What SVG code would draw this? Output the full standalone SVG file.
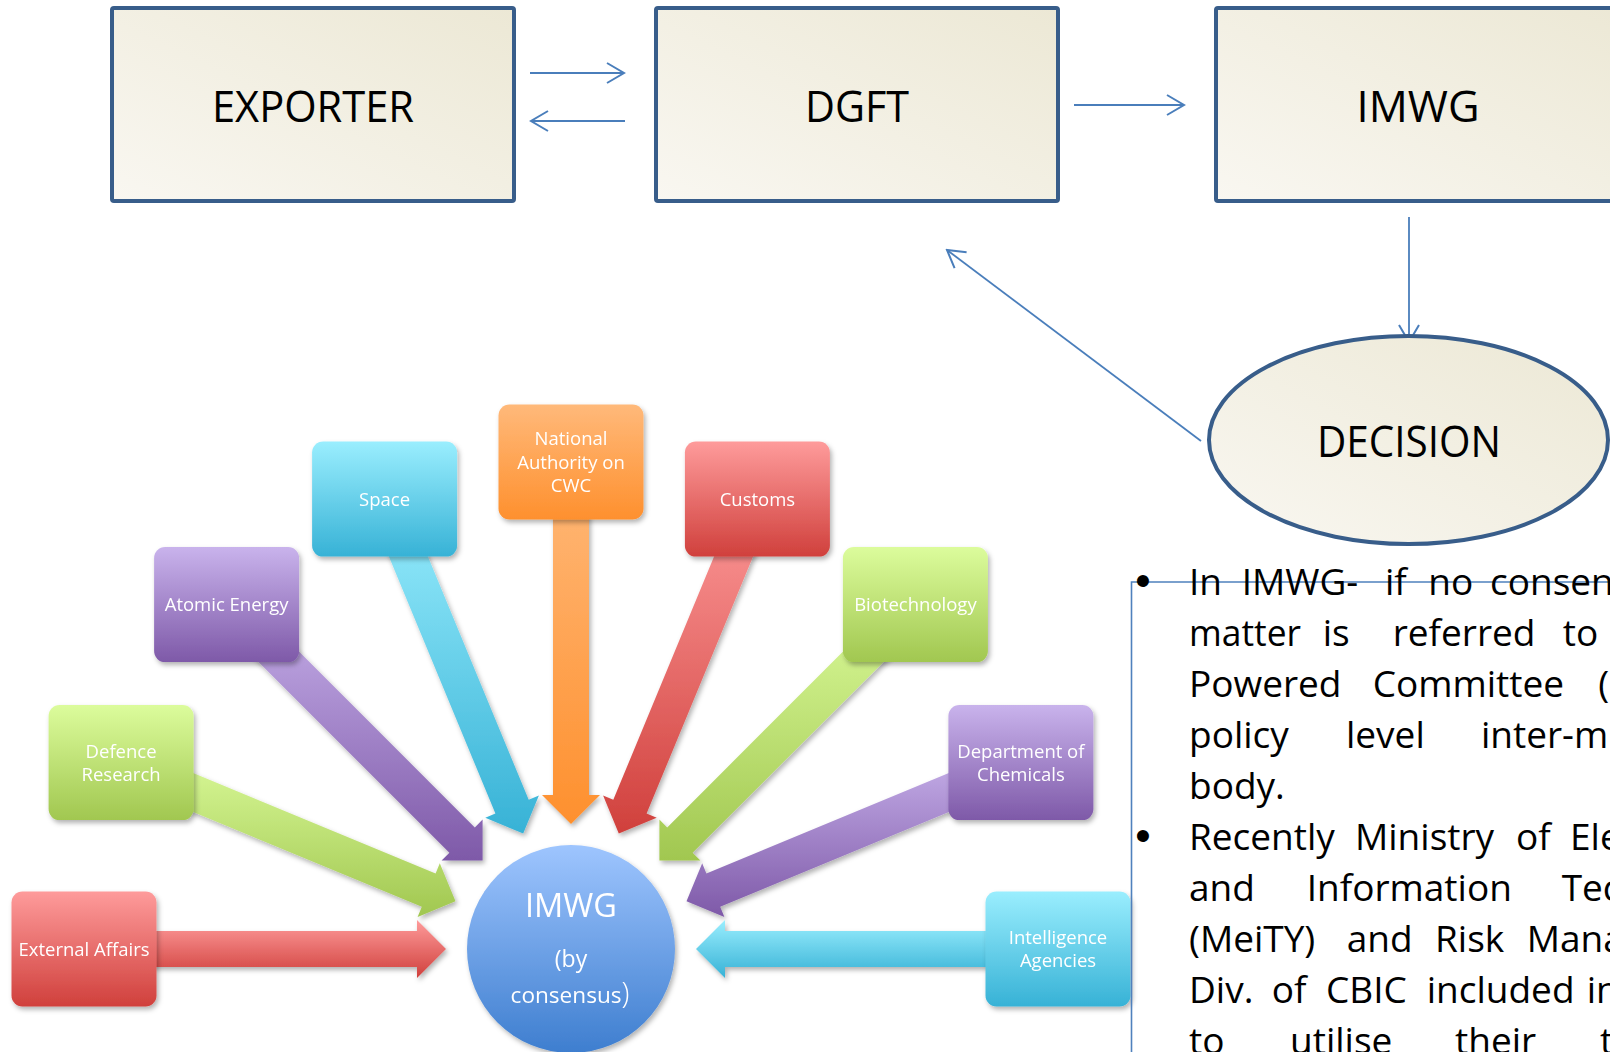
<svg xmlns="http://www.w3.org/2000/svg" width="1610" height="1052" viewBox="0 0 1610 1052">
<style>
.tb{fill:url(#gBeige);stroke:#385d8a;stroke-width:4}
.tt{font-family:"Open Sans","Liberation Sans",sans-serif;font-size:43.5px;fill:#000;text-anchor:middle}
.cn{fill:none;stroke:#4a7ebb;stroke-width:1.8;marker-end:url(#ah)}
.lb{font-family:"Open Sans","Liberation Sans",sans-serif;font-size:18.5px;fill:#fff;text-anchor:middle}
.sh{filter:url(#sh)}
.p{font-family:"Open Sans","Liberation Sans",sans-serif;font-size:37px;fill:#000}
.bu{font-family:"Liberation Sans",sans-serif;font-size:44px;fill:#000;text-anchor:middle}
</style>
<defs>
<linearGradient id="gBeige" x1="0" y1="1" x2="1" y2="0"><stop offset="0" stop-color="#f9f7f1"/><stop offset="1" stop-color="#ece8d5"/></linearGradient>
<linearGradient id="gRed" x1="0" y1="0" x2="0" y2="1"><stop offset="0" stop-color="#fe9b9b"/><stop offset="1" stop-color="#d0403c"/></linearGradient>
<linearGradient id="gGreen" x1="0" y1="0" x2="0" y2="1"><stop offset="0" stop-color="#dcfc9c"/><stop offset="1" stop-color="#a1c750"/></linearGradient>
<linearGradient id="gPurple" x1="0" y1="0" x2="0" y2="1"><stop offset="0" stop-color="#c9b3ec"/><stop offset="1" stop-color="#7e59a8"/></linearGradient>
<linearGradient id="gCyan" x1="0" y1="0" x2="0" y2="1"><stop offset="0" stop-color="#9aeefe"/><stop offset="1" stop-color="#37b2d6"/></linearGradient>
<linearGradient id="gOrange" x1="0" y1="0" x2="0" y2="1"><stop offset="0" stop-color="#ffb97a"/><stop offset="1" stop-color="#fe902e"/></linearGradient>
<linearGradient id="gBlue" x1="0" y1="0" x2="0" y2="1"><stop offset="0" stop-color="#9ec5fe"/><stop offset="1" stop-color="#3e7ecf"/></linearGradient>
<filter id="sh" x="-20%" y="-20%" width="150%" height="150%"><feDropShadow dx="2" dy="3" stdDeviation="2.5" flood-color="#000" flood-opacity="0.3"/></filter>
<marker id="ah" viewBox="0 0 20 22" refX="18" refY="11" markerWidth="20" markerHeight="22" markerUnits="userSpaceOnUse" orient="auto"><path d="M1,1 L18,11 L1,21" fill="none" stroke="#4a7ebb" stroke-width="2"/></marker>
</defs>
<rect width="1610" height="1052" fill="#fff"/>

<g id="connectors">
<line class="cn" x1="530" y1="73" x2="624" y2="73"/>
<line class="cn" x1="625" y1="121" x2="531" y2="121"/>
<line class="cn" x1="1074" y1="105" x2="1184" y2="105"/>
<line class="cn" x1="1409" y1="217" x2="1409" y2="342"/>
<line class="cn" x1="1201" y1="441" x2="947" y2="250"/>
</g>

<g id="exporter"><rect class="tb" x="112" y="8" width="402" height="193" rx="2"/><text class="tt" x="313" y="122" textLength="202" lengthAdjust="spacingAndGlyphs">EXPORTER</text></g>
<g id="dgft"><rect class="tb" x="656" y="8" width="402" height="193" rx="2"/><text class="tt" x="857" y="122" textLength="104" lengthAdjust="spacingAndGlyphs">DGFT</text></g>
<g id="imwg-top"><rect class="tb" x="1216" y="8" width="404" height="193" rx="2"/><text class="tt" x="1418" y="122" textLength="123" lengthAdjust="spacingAndGlyphs">IMWG</text></g>
<g id="decision"><ellipse cx="1408.5" cy="440" rx="199.5" ry="104" fill="url(#gBeige)" stroke="#385d8a" stroke-width="4"/><text class="tt" x="1409" y="457" textLength="184" lengthAdjust="spacingAndGlyphs">DECISION</text></g>

<g id="radial-arrows" class="sh">
<polygon fill="url(#gRed)" points="446,949 417,920 417,931 84,931 84,967 417,967 417,978"/>
<polygon fill="url(#gGreen)" points="455.5,901.2 439.8,863.3 435.6,873.4 128,746 114.2,779.3 421.8,906.7 417.6,916.9"/>
<polygon fill="url(#gPurple)" points="482.6,860.6 482.6,819.6 474.8,827.4 239.4,591.9 213.9,617.4 449.4,852.8 441.6,860.6"/>
<polygon fill="url(#gCyan)" points="523.2,833.5 538.9,795.6 528.7,799.8 401.3,492.2 368,506 495.4,813.6 485.3,817.8"/>
<polygon fill="url(#gOrange)" points="571,824 600,795 589,795 589,462 553,462 553,795 542,795"/>
<polygon fill="url(#gRed)" points="618.8,833.5 656.7,817.8 646.6,813.6 774,506 740.7,492.2 613.3,799.8 603.1,795.6"/>
<polygon fill="url(#gGreen)" points="659.4,860.6 700.4,860.6 692.6,852.8 928.1,617.4 902.6,591.9 667.2,827.4 659.4,819.6"/>
<polygon fill="url(#gPurple)" points="686.5,901.2 724.4,916.9 720.2,906.7 1027.8,779.3 1014,746 706.4,873.4 702.2,863.3"/>
<polygon fill="url(#gCyan)" points="696,949 725,978 725,967 1058,967 1058,931 725,931 725,920"/>
</g>

<g id="imwg-center" class="sh"><circle cx="571" cy="949" r="104" fill="url(#gBlue)"/>
<text class="lb" x="571" y="917" style="font-size:32.5px">IMWG</text>
<text class="lb" x="571" y="967" style="font-size:23px">(by</text>
<text class="lb" x="570" y="1003" style="font-size:22.6px">consensus<tspan style="font-size:29px;font-weight:300">)</tspan></text>
</g>

<g id="external-affairs" class="sh"><rect x="11.5" y="891.5" width="145" height="115" rx="11" fill="url(#gRed)"/><text class="lb" x="84" y="955.5">External Affairs</text></g>
<g id="defence-research" class="sh"><rect x="48.6" y="705.1" width="145" height="115" rx="11" fill="url(#gGreen)"/><text class="lb" x="121.1" y="757.9">Defence</text><text class="lb" x="121.1" y="780.5">Research</text></g>
<g id="atomic-energy" class="sh"><rect x="154.1" y="547.1" width="145" height="115" rx="11" fill="url(#gPurple)"/><text class="lb" x="226.6" y="611.1">Atomic Energy</text></g>
<g id="space" class="sh"><rect x="312.1" y="441.6" width="145" height="115" rx="11" fill="url(#gCyan)"/><text class="lb" x="384.6" y="505.6">Space</text></g>
<g id="cwc" class="sh"><rect x="498.5" y="404.5" width="145" height="115" rx="11" fill="url(#gOrange)"/><text class="lb" x="571" y="445">National</text><text class="lb" x="571" y="468.6">Authority on</text><text class="lb" x="571" y="492.2">CWC</text></g>
<g id="customs" class="sh"><rect x="684.9" y="441.6" width="145" height="115" rx="11" fill="url(#gRed)"/><text class="lb" x="757.4" y="505.6">Customs</text></g>
<g id="biotechnology" class="sh"><rect x="842.9" y="547.1" width="145" height="115" rx="11" fill="url(#gGreen)"/><text class="lb" x="915.4" y="611.1">Biotechnology</text></g>
<g id="chemicals" class="sh"><rect x="948.4" y="705.1" width="145" height="115" rx="11" fill="url(#gPurple)"/><text class="lb" x="1020.9" y="757.9">Department of</text><text class="lb" x="1020.9" y="780.5">Chemicals</text></g>
<g id="intelligence" class="sh"><rect x="985.5" y="891.5" width="145" height="115" rx="11" fill="url(#gCyan)"/><text class="lb" x="1058" y="944">Intelligence</text><text class="lb" x="1058" y="966.5">Agencies</text></g>

<g id="note-box">
<path d="M1131.5,1052 V582 H1610" fill="none" stroke="#4f81bd" stroke-width="1.6"/>
<text class="bu" x="1143" y="596">•</text>
<text class="bu" x="1143" y="851">•</text>
<text class="p" y="594.5"><tspan x="1189">In</tspan><tspan x="1241.7">IMWG-</tspan><tspan x="1385">if</tspan><tspan x="1428.3">no</tspan><tspan x="1490">consen</tspan></text>
<text class="p" y="645.6"><tspan x="1189" textLength="112" lengthAdjust="spacingAndGlyphs">matter</tspan><tspan x="1322.7">is</tspan><tspan x="1392.7">referred</tspan><tspan x="1562.7">to</tspan></text>
<text class="p" y="696.7"><tspan x="1189">Powered</tspan><tspan x="1372.7">Committee</tspan><tspan x="1598.3">(</tspan></text>
<text class="p" y="747.8"><tspan x="1189">policy</tspan><tspan x="1346">level</tspan><tspan x="1481">inter-m</tspan></text>
<text class="p" y="798.9"><tspan x="1189">body.</tspan></text>
<text class="p" y="850"><tspan x="1189">Recently</tspan><tspan x="1355">Ministry</tspan><tspan x="1516">of</tspan><tspan x="1570">Ele</tspan></text>
<text class="p" y="901.1"><tspan x="1189">and</tspan><tspan x="1306.7">Information</tspan><tspan x="1561.7">Tec</tspan></text>
<text class="p" y="952.2"><tspan x="1189">(MeiTY)</tspan><tspan x="1346.7">and</tspan><tspan x="1435">Risk</tspan><tspan x="1526.7">Mana</tspan></text>
<text class="p" y="1003.3"><tspan x="1189">Div.</tspan><tspan x="1271.7">of</tspan><tspan x="1326">CBIC</tspan><tspan x="1426.7">included</tspan><tspan x="1586.7">in</tspan></text>
<text class="p" y="1054.4"><tspan x="1189">to</tspan><tspan x="1290">utilise</tspan><tspan x="1455">their</tspan><tspan x="1600">t</tspan></text>
</g>
</svg>
